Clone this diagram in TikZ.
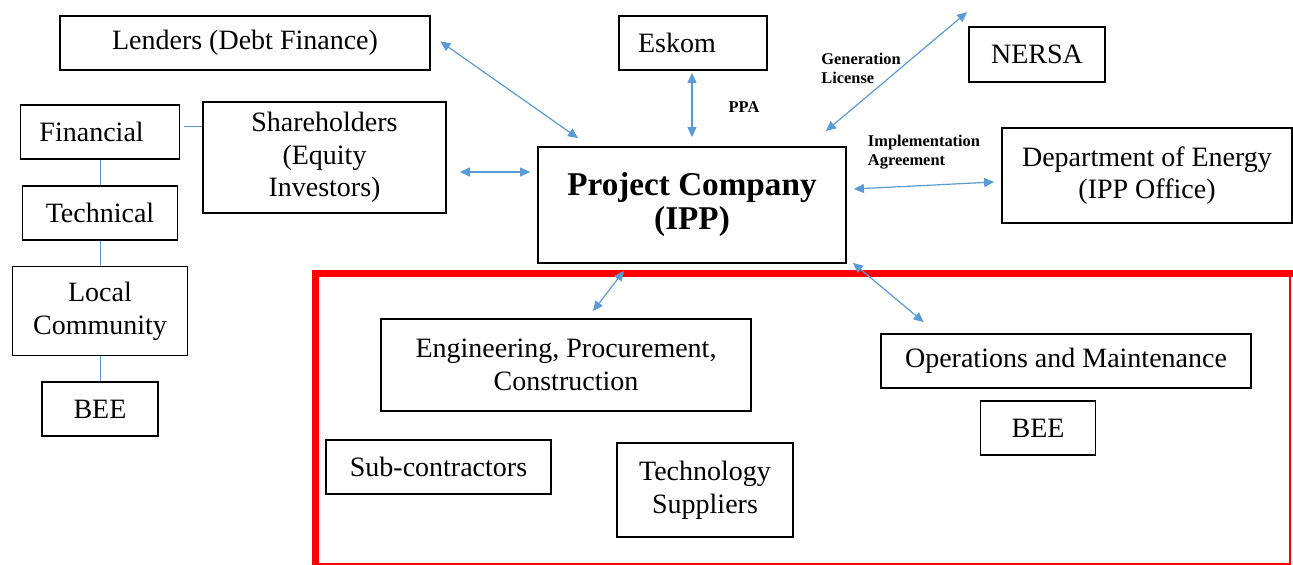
\documentclass[tikz,border=0pt]{standalone}
\usepackage{fontspec}
\setmainfont{Liberation Serif}
\usetikzlibrary{positioning,arrows.meta,calc}
\definecolor{linkblue}{RGB}{91,155,213}

\begin{document}
\begin{tikzpicture}[
    x=0.5pt, y=-0.5pt,
    node distance = 12.5pt,
    box/.style = {
        rectangle, draw, line width=0.9pt,
        inner sep=0pt, align=center,
        font=\fontsize{14}{16.3}\selectfont
    },
    lbox/.style = {box, align=left, inner xsep=9.5pt},
    note/.style = {
        inner sep=0pt, align=left,
        font=\bfseries\fontsize{8.2}{9.5}\selectfont
    },
    biarrow/.style = {
        {Triangle[length=5pt,width=4.5pt]}-{Triangle[length=5pt,width=4.5pt]},
        color=linkblue, line width=0.6pt
    },
    tie/.style = {draw=linkblue, line width=0.5pt}
]
\useasboundingbox (0,0) rectangle (1293,565);

% Contractor frame
\draw[red, line width=3.5pt] (315.5,565) -- (315.5,273.5) -- (1293,273.5);
\draw[red, line width=0.6pt] (1290,273.5) -- (1290,564) -- (315.5,564);

% Funding side
\node[box, minimum width=185pt, minimum height=27pt] (lenders) at (245,43) {Lenders (Debt Finance)};
\node[box, minimum width=121.5pt, minimum height=55.5pt] (share) at (324.5,157.5) {Shareholders\\(Equity\\Investors)};
\node[lbox, text width=60.5pt, minimum height=27pt] (fin) at (100,132) {Financial};
\node[box, below=of fin, minimum width=77.5pt, minimum height=27pt] (tech) {Technical};
\node[box, below=of tech, minimum width=87.5pt, minimum height=44.5pt] (local) {Local\\Community};
\node[box, below=of local, minimum width=58pt, minimum height=27pt] (beeL) {BEE};

% Project company
\node[box, minimum width=154pt, minimum height=58pt,
      font=\bfseries\fontsize{16.6}{17}\selectfont] (ipp) at (692,205) {Project Company\\(IPP)};

% Offtaker and regulators
\node[lbox, text width=55pt, minimum height=27pt] (eskom) at (693,43) {Eskom};
\node[box, minimum width=68pt, minimum height=27.5pt] (nersa) at (1037,54.5) {NERSA};
\node[box, minimum width=145pt, minimum height=47.5pt] (doe) at (1147,175.5) {Department of Energy\\(IPP Office)};

% Contractors
\node[box, minimum width=185pt, minimum height=46pt] (epc) at (566,365) {Engineering, Procurement,\\Construction};
\node[box, minimum width=112.5pt, minimum height=27pt] (sub) at (438.5,467) {Sub-contractors};
\node[box, minimum width=88pt, minimum height=47pt] (techsup) at (705,490) {Technology\\Suppliers};
\node[box, minimum width=185pt, minimum height=27pt] (om) at (1066,361) {Operations and Maintenance};
\node[box, minimum width=57.5pt, minimum height=27pt] (beeR) at (1038,428) {BEE};

% Agreement labels
\node[note] (ppa) at (744,107) {PPA};
\node[note] (genlic) at (861,68.5) {Generation\\License};
\node[note] (impl) at (924,152.5) {Implementation\\Agreement};

% Arrows
\draw[biarrow] ([shift={(9.5,-1.5)}]lenders.east) -- ([shift={(-114,-8)}]ipp.north);
\draw[biarrow] ([shift={(13,14.5)}]share.east) -- ([shift={(-7,-33)}]ipp.west);
\draw[biarrow] ([shift={(-1,2)}]eskom.south) -- ([shift={(0,-9)}]ipp.north);
\draw[biarrow] ([shift={(-1,-14)}]nersa.north west) -- ([shift={(-21,-15)}]ipp.north east);
\draw[biarrow] ([shift={(7,-16)}]ipp.east) -- ([shift={(-7,6.5)}]doe.west);
\draw[biarrow] ([shift={(-68,7)}]ipp.south) -- ([shift={(27,-7)}]epc.north);
\draw[biarrow] ([shift={(6,-1)}]ipp.south east) -- ([shift={(43.5,-11)}]om.north west);

% Shareholder links
\draw[tie] ($(fin.east)+(4,-5)$) -- ($(share.west |- fin.east)+(0,-5)$);
\draw[tie] (fin) -- (tech);
\draw[tie] (tech) -- (local);
\draw[tie] (local) -- (beeL);

\end{tikzpicture}
\end{document}
